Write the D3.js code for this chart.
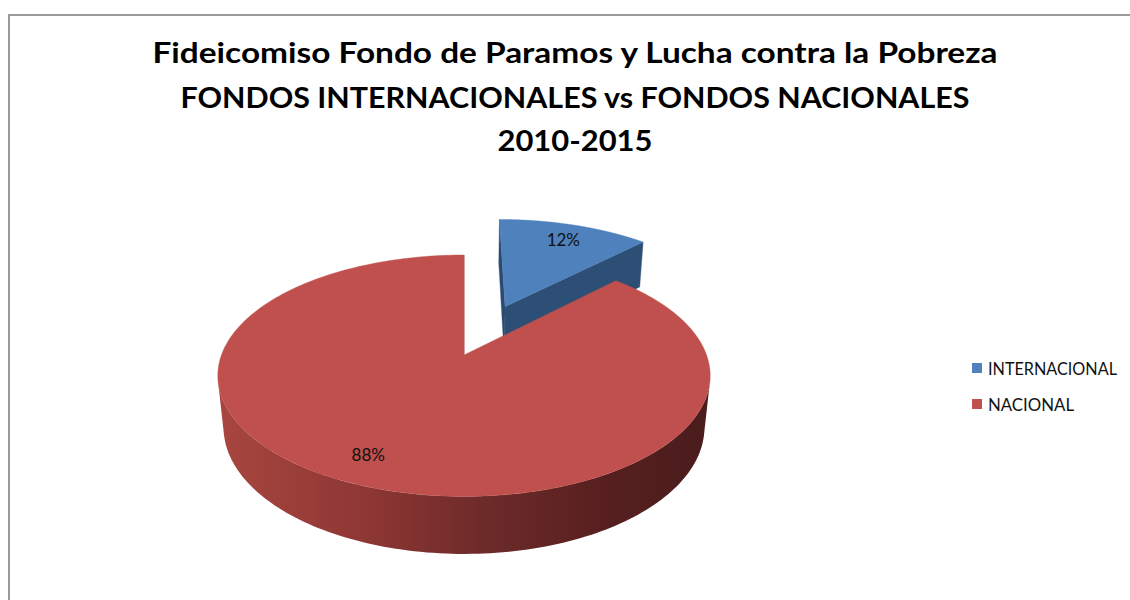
<!DOCTYPE html>
<html>
<head>
<meta charset="utf-8">
<script src="https://cdn.jsdelivr.net/npm/d3@7"></script>
<style>
  html, body { margin: 0; padding: 0; background: #fff; }
  svg { display: block; }
</style>
</head>
<body>
<svg id="chart" width="1130" height="600"></svg>
<script>
// ---- data ----
const titleLines = [
  "Fideicomiso Fondo de Paramos y Lucha contra la Pobreza",
  "FONDOS INTERNACIONALES vs FONDOS NACIONALES",
  "2010-2015"
];
const categories = ["INTERNACIONAL", "NACIONAL"];
const values = [12.4, 87.6];
const valueLabels = ["12%", "88%"];
const topColors = ["#4F81BD", "#C0504D"];
const sideColors = ["#2D4E75", "#8B3634"];
const explodeAmount = [0.48, 0];

// ---- layout / projection ----
const svg = d3.select("#chart");
const W = 1130, H = 600;

const cx = 464, cy = 355;        // projected pie centre
const F = 1237;                  // focal scale
const D = 5.1;                   // camera distance (in radii)
const elev = Math.asin(0.483);   // camera elevation
const sE = Math.sin(elev), cE = Math.cos(elev);
const depthH = 0.246;            // pie thickness (in radii)

function project(X, Y, Z) {
  const up = Y * cE - Z * sE;
  const dep = D - (Y * sE + Z * cE);
  return [cx + F * X / dep, cy - F * up / dep];
}
const cam = [0, D * sE, D * cE];

// border
svg.append("path")
  .attr("d", `M9,${H} V15 H${W}`)
  .attr("fill", "none")
  .attr("stroke", "#9a9a9a")
  .attr("stroke-width", 2);

const defs = svg.append("defs");

const pie = d3.pie().sort(null).value(d => d);
const arcs = pie(values);
const line = d3.line();

function offsetOf(i) {
  const a = arcs[i];
  const m = (a.startAngle + a.endAngle) / 2;
  const e = explodeAmount[i];
  return [e * Math.sin(m), -e * Math.cos(m)];
}
function rimPts(o, a0, a1, Y, n) {
  const pts = [];
  for (let k = 0; k <= n; k++) {
    const t = a0 + (a1 - a0) * k / n;
    pts.push(project(o[0] + Math.sin(t), Y, o[1] - Math.cos(t)));
  }
  return pts;
}
function outerVisible(o, t) {
  const P = [o[0] + Math.sin(t), 0, o[1] - Math.cos(t)];
  const n = [Math.sin(t), 0, -Math.cos(t)];
  return n[0] * (cam[0] - P[0]) + n[1] * (cam[1] - P[1]) + n[2] * (cam[2] - P[2]) > 0;
}
function radialVisible(o, t, sign) {
  const P = [o[0], 0, o[1]];
  const n = [sign * Math.cos(t), 0, sign * Math.sin(t)];
  return n[0] * (cam[0] - P[0]) + n[1] * (cam[1] - P[1]) + n[2] * (cam[2] - P[2]) > 0;
}

const g = svg.append("g");

// draw back slice (exploded small one) first, then the large slice
[0, 1].forEach(i => {
  const a = arcs[i];
  const o = offsetOf(i);
  const sg = g.append("g").attr("class", "slice-" + i);

  // radial faces
  [[a.startAngle, -1], [a.endAngle, 1]].forEach(([t, sign]) => {
    if (!radialVisible(o, t, sign)) return;
    const p = [
      project(o[0], 0, o[1]),
      project(o[0] + Math.sin(t), 0, o[1] - Math.cos(t)),
      project(o[0] + Math.sin(t), -depthH, o[1] - Math.cos(t)),
      project(o[0], -depthH, o[1])
    ];
    sg.append("path")
      .attr("d", line(p) + "Z")
      .attr("fill", d3.color(sideColors[i]).darker(sign < 0 ? 0.15 : 0).formatHex())
      .attr("stroke", sideColors[i]).attr("stroke-width", 0.4);
  });

  // outer side (visible part only)
  const N = 400;
  let vs = null, ve = null;
  for (let k = 0; k <= N; k++) {
    const t = a.startAngle + (a.endAngle - a.startAngle) * k / N;
    if (outerVisible(o, t)) { if (vs === null) vs = t; ve = t; }
  }
  if (vs !== null) {
    const topArc = rimPts(o, vs, ve, 0, 120);
    const botArc = rimPts(o, vs, ve, -depthH, 120).reverse();
    const xs = topArc.concat(botArc).map(p => p[0]);
    const gid = "sideGrad" + i;
    const base = d3.color(topColors[i]);
    const grad = defs.append("linearGradient")
      .attr("id", gid).attr("gradientUnits", "userSpaceOnUse")
      .attr("x1", d3.min(xs)).attr("x2", d3.max(xs)).attr("y1", 0).attr("y2", 0);
    const stops = i === 1
      ? [[0, "#A8463F"], [0.3, "#8E3734"], [0.55, "#6C2A29"], [0.8, "#561F1F"], [1, "#4A1C1C"]]
      : [[0, base.darker(0.6).formatHex()], [1, base.darker(1.6).formatHex()]];
    stops.forEach(s => grad.append("stop").attr("offset", s[0]).attr("stop-color", s[1]));
    sg.append("path")
      .attr("d", line(topArc.concat(botArc)) + "Z")
      .attr("fill", `url(#${gid})`);
  }

  // top face
  const topPts = [project(o[0], 0, o[1])]
    .concat(rimPts(o, a.startAngle, a.endAngle, 0, 240));
  sg.append("path")
    .attr("d", line(topPts) + "Z")
    .attr("fill", topColors[i])
    .attr("stroke", topColors[i]).attr("stroke-width", 0.4);
});

// value labels
const labelR = [0.8, 0.82];
const labelShift = [0.5, 2.5].map(d => d * Math.PI / 180);
arcs.forEach((a, i) => {
  const m = (a.startAngle + a.endAngle) / 2 + labelShift[i];
  const mm = (a.startAngle + a.endAngle) / 2;
  const o = [explodeAmount[i] * Math.sin(mm), -explodeAmount[i] * Math.cos(mm)];
  const p = project(o[0] + labelR[i] * Math.sin(m), 0, o[1] - labelR[i] * Math.cos(m));
  g.append("text")
    .attr("x", p[0]).attr("y", p[1])
    .attr("text-anchor", "middle")
    .attr("dominant-baseline", "central")
    .attr("font-family", "Lato, 'Open Sans', sans-serif")
    .attr("font-size", 17)
    .attr("fill", "#111")
    .text(valueLabels[i]);
});

// title
const titleY = [63, 108, 151];
const titleW = [845, 789, 155];
titleLines.forEach((t, i) => {
  svg.append("text")
    .attr("x", 575).attr("y", titleY[i])
    .attr("text-anchor", "middle")
    .attr("font-family", "Lato, 'Open Sans', sans-serif")
    .attr("font-weight", "bold")
    .attr("font-size", 29)
    .attr("fill", "#000")
    .attr("textLength", titleW[i])
    .attr("lengthAdjust", "spacingAndGlyphs")
    .text(t);
});

// legend
const legend = svg.append("g").attr("transform", "translate(972,363)");
const legendW = [129, 86];
categories.forEach((c, i) => {
  const row = legend.append("g").attr("transform", `translate(0,${i * 36})`);
  row.append("rect").attr("x", 0).attr("y", 0).attr("width", 10).attr("height", 10)
    .attr("fill", topColors[i]);
  row.append("text")
    .attr("x", 16).attr("y", 12)
    .attr("font-family", "Lato, 'Open Sans', sans-serif")
    .attr("font-size", 17)
    .attr("fill", "#111")
    .attr("textLength", legendW[i])
    .attr("lengthAdjust", "spacingAndGlyphs")
    .text(c);
});
</script>
</body>
</html>
